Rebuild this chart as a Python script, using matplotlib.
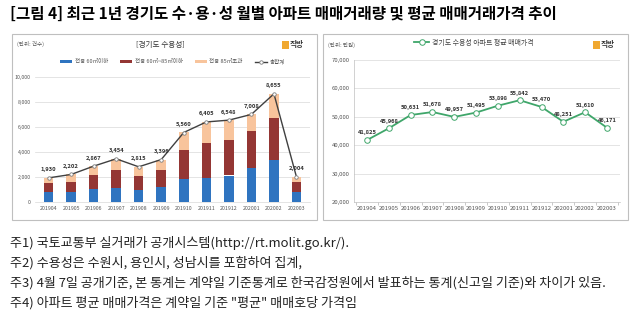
import matplotlib
matplotlib.use('Agg')
import matplotlib.pyplot as plt
from matplotlib.patches import Rectangle
import numpy as np

plt.rcParams['font.family'] = ['Noto Sans CJK KR', 'DejaVu Sans']

# data
months = ['201904', '201905', '201906', '201907', '201908', '201909',
          '201910', '201911', '201912', '202001', '202002', '202003']
total = [1930, 2202, 2867, 3454, 2815, 3396, 5560, 6405, 6548, 7008, 8655, 2004]
small = [780, 800, 1040, 1120, 940, 1200, 1850, 1930, 2120, 2730, 3350, 800]      # 60㎡ 이하
mid = [720, 800, 1100, 1420, 1150, 1340, 2300, 2760, 2860, 2950, 3400, 810]       # 60~85㎡
large = [t - s - m for t, s, m in zip(total, small, mid)]                          # 85㎡ 초과
price = [41825, 45968, 50631, 51678, 49957, 51495, 53898, 55842, 53470, 48251, 51610, 46171]

W, H = 630, 321
fig = plt.figure(figsize=(W / 100, H / 100), dpi=100)


def fx(px):
    return px / W


def fy(py):
    return 1 - py / H


# title
fig.text(fx(10), fy(14), '[그림 4] 최근 1년 경기도 수·용·성 월별 아파트 매매거래량 및 평균 매매거래가격 추이',
         fontsize=11.2, fontweight='bold', va='center', ha='left')

# panel boxes
for x0, x1 in [(12, 317), (323, 628)]:
    fig.patches.append(Rectangle((fx(x0), fy(220)), fx(x1 - x0), (220 - 34) / H,
                                 transform=fig.transFigure, fill=False,
                                 edgecolor='#bfbfbf', linewidth=0.8))


def logo(xp, yp):
    fig.patches.append(Rectangle((fx(xp), fy(yp + 4)), fx(7), 8 / H, transform=fig.transFigure,
                                 facecolor='#f0a830', edgecolor='none'))
    fig.text(fx(xp + 8), fy(yp), '직방', fontsize=5.5, fontweight='bold', va='center',
             ha='left', color='#333333')


# ---------- left: transaction volume ----------
ax1 = fig.add_axes([fx(35), fy(202), fx(275), (202 - 77) / H])
x = np.arange(len(months))
bw = 0.42
c_small, c_mid, c_large = '#2f74c0', '#943634', '#f8c49c'
b1 = ax1.bar(x, small, bw, color=c_small, label='전용 60㎡이하', zorder=2)
b2 = ax1.bar(x, mid, bw, bottom=small, color=c_mid, label='전용 60㎡~85㎡이하', zorder=2)
b3 = ax1.bar(x, large, bw, bottom=np.array(small) + np.array(mid), color=c_large,
             label='전용 85㎡초과', zorder=2)
l1, = ax1.plot(x, total, color='#404040', lw=1.0, marker='o', ms=2.5, mfc='white',
               mec='#7f7f7f', mew=0.6, label='총합계', zorder=3)
for xi, t in zip(x, total):
    ax1.text(xi, t + 450, f'{t:,}', fontsize=4.2, fontweight='bold', ha='center',
             va='bottom', color='#333333')
ax1.set_ylim(0, 10000)
ax1.set_xlim(-0.6, len(months) - 0.4)
ax1.set_yticks(range(0, 10001, 2000))
ax1.set_yticklabels([f'{v:,}' for v in range(0, 10001, 2000)])
ax1.set_xticks(x)
ax1.set_xticklabels(months)
ax1.tick_params(axis='both', labelsize=3.8, length=0, colors='#555555', pad=3)
ax1.grid(axis='y', color='#d9d9d9', lw=0.5, zorder=0)
for s in ['top', 'right', 'left']:
    ax1.spines[s].set_visible(False)
ax1.spines['bottom'].set_color('#d9d9d9')
ax1.spines['bottom'].set_linewidth(0.5)
ax1.legend(handles=[b1, b2, b3, l1], loc='lower center', bbox_to_anchor=(0.5, 1.06), ncol=4,
           frameon=False, fontsize=4.0, handlelength=2.2, handleheight=0.5, columnspacing=2.2,
           handletextpad=0.4, labelcolor='#555555')

fig.text(fx(17), fy(44), '(단위: 건수)', fontsize=4.0, va='center', ha='left', color='#555555')
fig.text(fx(160), fy(45), '[경기도 수용성]', fontsize=5.5, va='center', ha='center', color='#333333')
logo(282, 45)

# ---------- right: average price ----------
ax2 = fig.add_axes([fx(354), fy(202), fx(266), (202 - 60) / H])
ax2.plot(x, price, color='#3fa66a', lw=1.3, marker='o', ms=4, mfc='white',
         mec='#3fa66a', mew=0.7, label='경기도 수용성 아파트 평균 매매가격', zorder=3)
for xi, p in zip(x, price):
    ax2.text(xi, p + 1600, f'{p:,}', fontsize=4.2, fontweight='bold', ha='center',
             va='bottom', color='#333333')
ax2.set_ylim(20000, 70000)
ax2.set_xlim(-0.6, len(months) - 0.4)
ax2.set_yticks(range(20000, 70001, 10000))
ax2.set_yticklabels([f'{v:,}' for v in range(20000, 70001, 10000)])
ax2.set_xticks(x)
ax2.set_xticklabels(months)
ax2.set_xticks(np.arange(-0.5, len(months)), minor=True)
ax2.tick_params(axis='both', labelsize=4.3, length=0, colors='#555555', pad=3)
ax2.tick_params(axis='x', which='minor', length=2, color='#bfbfbf')
ax2.grid(axis='y', color='#d9d9d9', lw=0.5, zorder=0)
for s in ['top', 'right']:
    ax2.spines[s].set_visible(False)
for s in ['left', 'bottom']:
    ax2.spines[s].set_color('#bfbfbf')
    ax2.spines[s].set_linewidth(0.5)
ax2.legend(loc='lower center', bbox_to_anchor=(0.45, 1.05), frameon=False, fontsize=5.0,
           handlelength=2.2, handletextpad=0.3, labelcolor='#444444')

fig.text(fx(328), fy(45), '(단위: 만원)', fontsize=4.0, va='center', ha='left', color='#555555')
logo(593, 45)

# footnotes
notes = [
    '주1) 국토교통부 실거래가 공개시스템(http://rt.molit.go.kr/).',
    '주2) 수용성은 수원시, 용인시, 성남시를 포함하여 집계,',
    '주3) 4월 7일 공개기준, 본 통계는 계약일 기준통계로 한국감정원에서 발표하는 통계(신고일 기준)와 차이가 있음.',
    '주4) 아파트 평균 매매가격은 계약일 기준 "평균" 매매호당 가격임',
]
for i, n in enumerate(notes):
    fig.text(fx(10), fy(243 + 20 * i), n, fontsize=9.4, va='center', ha='left', color='#222222')

fig.savefig('out.png', dpi=100)
